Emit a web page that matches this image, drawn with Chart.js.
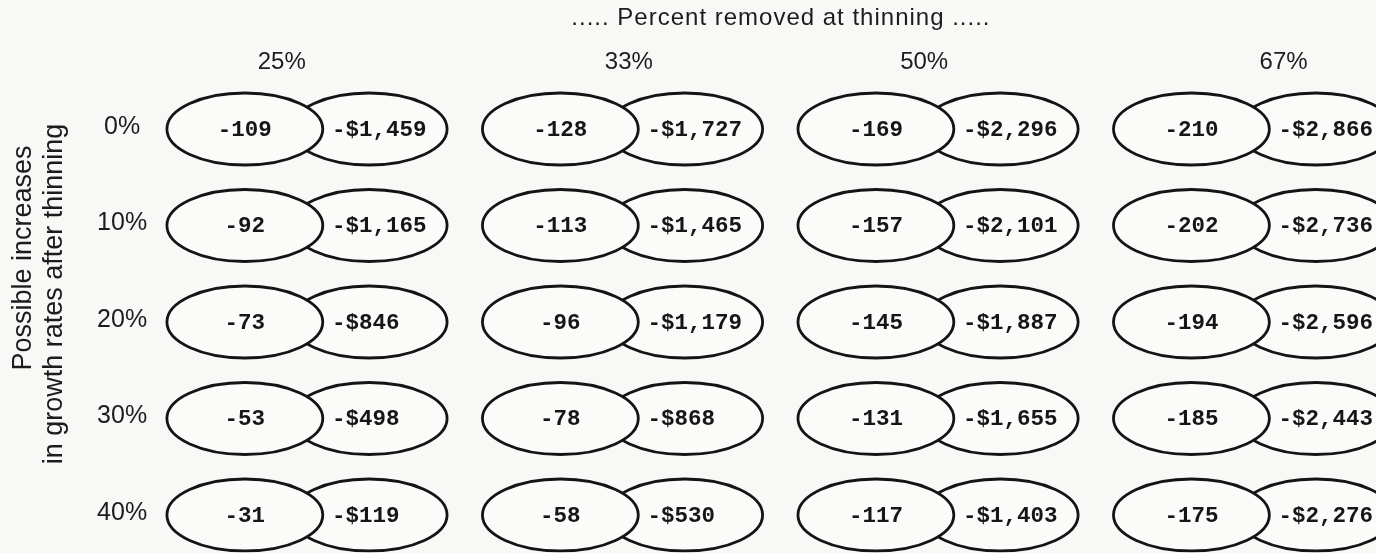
<!DOCTYPE html>
<html>
<head>
<meta charset="utf-8">
<script src="https://cdn.jsdelivr.net/npm/chart.js@4/dist/chart.umd.min.js"></script>
<style>
  html, body { margin: 0; padding: 0; background: #f8f8f7; }
  #wrap { width: 1376px; height: 553px; position: relative; }
</style>
</head>
<body>
<div id="wrap"><canvas id="c" width="1376" height="553"></canvas></div>
<script>
// ---- data ----
const thinningLevels = ['25%', '33%', '50%', '67%'];          // columns (percent removed at thinning)
const growthIncreases = ['0%', '10%', '20%', '30%', '40%'];    // rows (possible increases in growth)
// left oval values, per thinning level, rows 0%..40%
const volumeChange = [
  [-109, -92, -73, -53, -31],
  [-128, -113, -96, -78, -58],
  [-169, -157, -145, -131, -117],
  [-210, -202, -194, -185, -175]
];
// right oval values (dollars), per thinning level, rows 0%..40%
const dollarChange = [
  [-1459, -1165, -846, -498, -119],
  [-1727, -1465, -1179, -868, -530],
  [-2296, -2101, -1887, -1655, -1403],
  [-2866, -2736, -2596, -2443, -2276]
];
const titleText = '..... Percent removed at thinning .....';
const yTitleLines = ['Possible increases', 'in growth rates after thinning'];

// ---- layout constants (not data) ----
const PAIR_OFFSET = 0.197;    // ovals sit left/right of group center (x units)
const OVAL_RX = 0.247;        // x units
const OVAL_RY = 0.373;        // y units
const RIGHT_TEXT_GAP = 0.276; // right label starts this far right of left-oval center
const HEADER_NUDGE = [-0.08, 0.02, -0.044, 0.095];

function fmtDollar(v) {
  const s = Math.abs(v).toLocaleString('en-US');
  return (v < 0 ? '-$' : '$') + s;
}

const leftPts = [], rightPts = [];
thinningLevels.forEach((t, g) => {
  growthIncreases.forEach((r, i) => {
    leftPts.push({ x: g - PAIR_OFFSET, y: i, label: String(volumeChange[g][i]) });
    rightPts.push({ x: g + PAIR_OFFSET, y: i, label: fmtDollar(dollarChange[g][i]) });
  });
});

const ovalPlugin = {
  id: 'ovals',
  afterDatasetsDraw(chart) {
    const ctx = chart.ctx;
    const xs = chart.scales.x, ys = chart.scales.y;
    const unit = Math.abs(xs.getPixelForValue(1) - xs.getPixelForValue(0));
    const rx = OVAL_RX * unit;
    const ry = Math.abs(ys.getPixelForValue(OVAL_RY) - ys.getPixelForValue(0));
    const drawOvals = (dsIndex) => {
      chart.getDatasetMeta(dsIndex).data.forEach(el => {
        ctx.save();
        ctx.beginPath();
        ctx.ellipse(el.x, el.y, rx, ry, 0, 0, Math.PI * 2);
        ctx.fillStyle = '#fbfbfa';
        ctx.fill();
        ctx.lineWidth = 2.8;
        ctx.strokeStyle = '#141414';
        ctx.stroke();
        ctx.restore();
      });
    };
    drawOvals(1); // right ovals underneath
    drawOvals(0); // left ovals on top
    // labels
    ctx.save();
    ctx.fillStyle = '#161616';
    ctx.font = 'bold 22.5px "Liberation Mono", "Courier New", monospace';
    ctx.textBaseline = 'middle';
    ctx.textAlign = 'center';
    const leftMeta = chart.getDatasetMeta(0).data;
    leftMeta.forEach((el, k) => {
      ctx.fillText(chart.data.datasets[0].data[k].label, el.x, el.y + 1);
    });
    ctx.textAlign = 'left';
    chart.getDatasetMeta(1).data.forEach((el, k) => {
      ctx.fillText(chart.data.datasets[1].data[k].label, leftMeta[k].x + RIGHT_TEXT_GAP * unit, el.y + 1);
    });
    ctx.restore();

    // headers and row labels
    ctx.save();
    ctx.fillStyle = '#1c1c1c';
    ctx.textAlign = 'center';
    ctx.textBaseline = 'middle';
    ctx.font = '24px "Liberation Sans", Arial, sans-serif';
    ctx.letterSpacing = '1px';
    ctx.fillText(titleText, xs.getPixelForValue(1.502), 18);
    ctx.letterSpacing = '0px';
    thinningLevels.forEach((t, g) => {
      ctx.fillText(t, xs.getPixelForValue(g + HEADER_NUDGE[g]), 62);
    });
    ctx.font = '25px "Liberation Sans", Arial, sans-serif';
    growthIncreases.forEach((r, i) => {
      ctx.fillText(r, xs.getPixelForValue(-0.586), ys.getPixelForValue(i) - 2);
    });
    ctx.restore();
    // rotated y title (two lines)
    [[yTitleLines[0], 24, 258], [yTitleLines[1], 55, 294]].forEach(([txt, px, py]) => {
      ctx.save();
      ctx.fillStyle = '#1c1c1c';
      ctx.font = '27px "Liberation Sans", Arial, sans-serif';
      ctx.textAlign = 'center';
      ctx.textBaseline = 'middle';
      ctx.translate(px, py);
      ctx.rotate(-Math.PI / 2);
      ctx.fillText(txt, 0, 0);
      ctx.restore();
    });
  }
};

new Chart(document.getElementById('c'), {
  type: 'scatter',
  data: {
    datasets: [
      { label: 'Volume', data: leftPts, pointRadius: 0, pointHoverRadius: 0, showLine: false },
      { label: 'Dollars', data: rightPts, pointRadius: 0, pointHoverRadius: 0, showLine: false }
    ]
  },
  options: {
    responsive: false,
    animation: false,
    layout: { padding: 0 },
    plugins: { legend: { display: false }, tooltip: { enabled: false } },
    scales: {
      x: { type: 'linear', min: -0.973, max: 3.388, display: false },
      y: { type: 'linear', min: -1.337, max: 4.394, reverse: true, display: false }
    }
  },
  plugins: [ovalPlugin]
});
</script>
</body>
</html>
